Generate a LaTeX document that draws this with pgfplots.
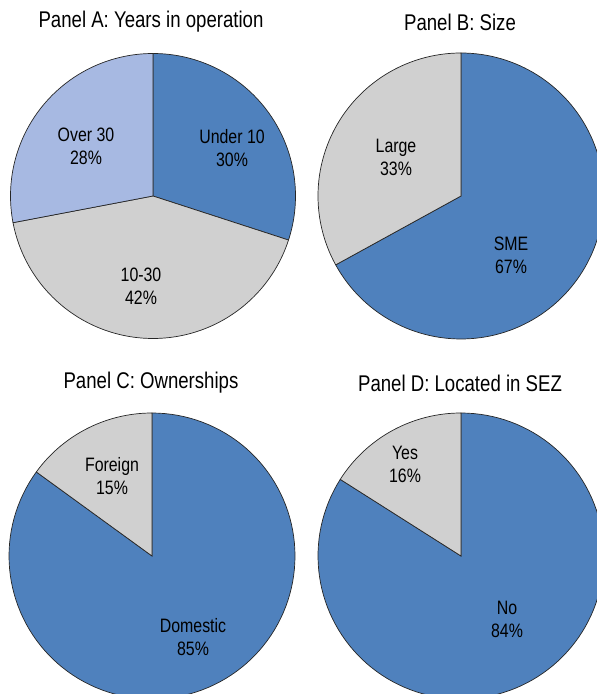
\documentclass[border=0pt]{standalone}
\usepackage{pgfplots}
\pgfplotsset{compat=1.18}
\usepackage{fontspec}
\setmainfont[FakeStretch=0.82]{Liberation Sans}
\definecolor{pblue}{HTML}{4F81BD}
\definecolor{pgray}{HTML}{D0D0D0}
\definecolor{plight}{HTML}{A7B9E2}
% slice: center x, center y (image coords, y down), radius, start %, end %, colour
\newcommand\slice[6]{%
  \addplot[draw=black!85, line width=0.7pt, fill=#6, domain=90-3.6*(#5):90-3.6*(#4), samples=120, variable=\t]
    ({#1+#3*cos(\t)},{694-#2+#3*sin(\t)}) -- (axis cs:#1,694-#2) -- cycle;
}
\newcommand\lab[3]{\node[align=center, font=\fontsize{19.4}{23}\selectfont, inner sep=0pt] at (axis cs:#1,694-#2) {#3};}
\newcommand\ttl[3]{\node[font=\fontsize{22.7}{26}\selectfont, inner sep=0pt] at (axis cs:#1,694-#2) {#3};}
\begin{document}
\begin{tikzpicture}
\path[use as bounding box] (0,0) rectangle (597pt,694pt);
\begin{axis}[at={(0,0)}, anchor=south west, scale only axis, width=597pt, height=694pt,
  xmin=0, xmax=597, ymin=0, ymax=694, hide axis, clip=true]
% Panel A: Years in operation (Under 10 30, 10-30 42, Over 30 28)
\slice{153}{196}{142.5}{0}{30}{pblue}
\slice{153}{196}{142.5}{30}{72}{pgray}
\slice{153}{196}{142.5}{72}{100}{plight}
% Panel B: Size (SME 67, Large 33)
\slice{461}{196}{143}{0}{67}{pblue}
\slice{461}{196}{143}{67}{100}{pgray}
% Panel C: Ownerships (Domestic 85, Foreign 15)
\slice{152}{556}{143}{0}{85}{pblue}
\slice{152}{556}{143}{85}{100}{pgray}
% Panel D: Located in SEZ (No 84, Yes 16)
\slice{461}{556}{143}{0}{84}{pblue}
\slice{461}{556}{143}{84}{100}{pgray}
\ttl{151}{22}{Panel A: Years in operation}
\ttl{460}{22}{Panel B: Size}
\ttl{151}{383}{Panel C: Ownerships}
\ttl{460}{383}{Panel D: Located in SEZ}
\lab{232}{148.5}{Under 10\\30\%}
\lab{86}{146.5}{Over 30\\28\%}
\lab{141}{286}{10-30\\42\%}
\lab{396}{157}{Large\\33\%}
\lab{511}{255}{SME\\67\%}
\lab{112}{476}{Foreign\\15\%}
\lab{193}{637.5}{Domestic\\85\%}
\lab{405}{464}{Yes\\16\%}
\lab{507}{619.5}{No\\84\%}
\end{axis}
\end{tikzpicture}
\end{document}
